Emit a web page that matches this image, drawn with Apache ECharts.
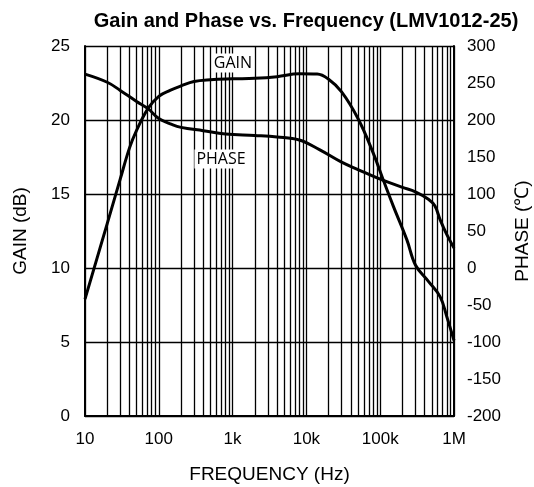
<!DOCTYPE html>
<html>
<head>
<meta charset="utf-8">
<script src="https://cdn.jsdelivr.net/npm/echarts@6.0.0/dist/echarts.min.js"></script>
<style>
  html, body { margin: 0; padding: 0; background: #fff; }
  #chart { width: 534px; height: 487px; }
</style>
</head>
<body>
<div id="chart"></div>
<script>
// gain curve (dB): [frequency Hz, gain]
const gainData = [
  [10, 7.9], [20, 13.0], [30, 16.0], [40, 18.1], [50, 19.3], [72, 20.8],
  [100, 21.6], [142, 22.0], [200, 22.3], [300, 22.6], [500, 22.72], [1000, 22.78],
  [2000, 22.82], [4000, 22.93], [8000, 23.12], [14000, 23.1], [20000, 22.75],
  [30000, 21.9], [50000, 20.1], [80000, 17.8], [110000, 15.95], [150000, 14.2],
  [230000, 11.9], [300000, 10.2], [450000, 9.1], [650000, 8.05], [800000, 6.7],
  [1000000, 5.1]
];

// phase curve (degrees): [frequency Hz, phase]
const phaseData = [
  [10, 262], [20, 251], [30, 240], [50, 225], [72, 215], [100, 202], [150, 194],
  [200, 190], [400, 185.5], [800, 181], [2000, 179], [4000, 177], [8000, 173],
  [15000, 160], [30000, 143], [50000, 133], [100000, 120], [200000, 109],
  [300000, 103], [450000, 93], [550000, 84], [650000, 65], [800000, 45],
  [1000000, 27]
];

const freqLabels = { 10: '10', 100: '100', 1000: '1k', 10000: '10k', 100000: '100k', 1000000: '1M' };
const decades = [10, 100, 1000, 10000, 100000];
const minorSteps = [2, 3, 4, 5, 6, 7, 8, 9];

// minor vertical grid lines of the log paper
const minorLines = [];
decades.forEach(d => minorSteps.forEach(m => minorLines.push({ xAxis: d * m })));

const FONT = 'Liberation Sans';
const chart = echarts.init(document.getElementById('chart'));

chart.setOption({
  animation: false,
  backgroundColor: '#fff',
  textStyle: { fontFamily: FONT, color: '#000' },
  title: {
    text: 'Gain and Phase vs. Frequency (LMV1012-25)',
    left: 301, top: 6, textAlign: 'center',
    textStyle: { fontFamily: FONT, fontWeight: 'bold', fontSize: 20, color: '#000' }
  },
  grid: { left: 85, right: 80, top: 46, bottom: 71, containLabel: false, outerBoundsMode: 'none' },
  xAxis: {
    type: 'log', logBase: 10, min: 10, max: 1000000,
    name: 'FREQUENCY (Hz)', nameLocation: 'middle', nameGap: 49,
    nameTextStyle: { fontSize: 19, color: '#000' },
    axisLine: { show: true, lineStyle: { color: '#000', width: 2 } },
    axisTick: { show: false },
    axisLabel: { fontSize: 17, color: '#000', margin: 15, formatter: v => freqLabels[Math.round(v)] || '' },
    splitLine: { show: true, lineStyle: { color: '#000', width: 1.3 } }
  },
  yAxis: [
    {
      type: 'value', min: 0, max: 25, interval: 5,
      name: 'GAIN (dB)', nameLocation: 'middle', nameGap: 55, nameRotate: 90,
      nameTextStyle: { fontSize: 19, color: '#000' },
      axisLine: { show: true, lineStyle: { color: '#000', width: 2 } },
      axisTick: { show: false },
      axisLabel: { fontSize: 17, color: '#000', margin: 15 },
      splitLine: { show: true, lineStyle: { color: '#000', width: 1.3 } }
    },
    {
      type: 'value', min: -200, max: 300, interval: 50,
      name: 'PHASE (℃)', nameLocation: 'middle', nameGap: 59, nameRotate: 90,
      nameTextStyle: { fontSize: 19, color: '#000' },
      axisLine: { show: true, lineStyle: { color: '#000', width: 2 } },
      axisTick: { show: false },
      axisLabel: { fontSize: 17, color: '#000', margin: 13, padding: [8, 0, 0, 0] },
      splitLine: { show: false }
    }
  ],
  graphic: [
    {
      type: 'text', x: 233, y: 63, z: 100,
      style: { text: 'GAIN', font: '16px "Open Sans"', fill: '#000',
        align: 'center', verticalAlign: 'middle',
        backgroundColor: '#fff', padding: [2, 2, 1, 2] }
    },
    {
      type: 'text', x: 221, y: 159, z: 100,
      style: { text: 'PHASE', font: '16px "Open Sans"', fill: '#000',
        align: 'center', verticalAlign: 'middle',
        backgroundColor: '#fff', padding: [2, 2, 1, 2] }
    }
  ],
  series: [
    {
      name: 'GAIN', type: 'line', yAxisIndex: 0, data: gainData,
      smooth: 0.4, showSymbol: false, symbol: 'none',
      lineStyle: { color: '#000', width: 3 }, z: 5,
      markLine: {
        silent: true, symbol: 'none', animation: false, z: 1,
        label: { show: false },
        lineStyle: { color: '#000', width: 1.3, type: 'solid' },
        data: minorLines
      }
    },
    {
      name: 'PHASE', type: 'line', yAxisIndex: 1, data: phaseData,
      smooth: 0.4, showSymbol: false, symbol: 'none',
      lineStyle: { color: '#000', width: 3 }, z: 5
    }
  ]
});
</script>
</body>
</html>
